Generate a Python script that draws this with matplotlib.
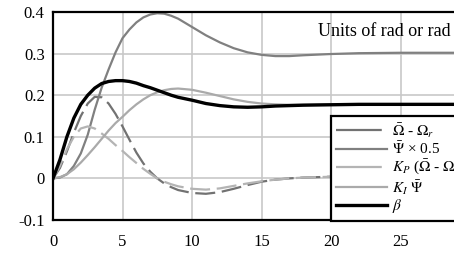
import numpy as np
import matplotlib
matplotlib.use("Agg")
import matplotlib.pyplot as plt
from matplotlib.lines import Line2D

plt.rcParams['font.family'] = ['Liberation Serif', 'DejaVu Serif']
plt.rcParams['mathtext.fontset'] = 'stix'

# time axis (s)
t = [0, 0.5, 1, 1.5, 2, 2.5, 3, 3.5, 4, 4.5, 5, 5.5, 6, 6.5, 7, 7.5, 8, 8.5, 9,
     10, 11, 12, 13, 14, 15, 16, 17, 18, 20, 22, 25, 28, 30]

# Omega_bar - Omega_r
omega_err = [0, 0.025, 0.065, 0.11, 0.15, 0.18, 0.196, 0.195, 0.18, 0.155, 0.125, 0.093,
             0.062, 0.036, 0.016, 0.0, -0.012, -0.021, -0.028,
             -0.035, -0.037, -0.033, -0.025, -0.016, -0.008, -0.003, 0.0, 0.002, 0.004, 0.005, 0.005, 0.005, 0.005]
# Psi_bar x 0.5
psi_half = [0, 0.002, 0.01, 0.03, 0.06, 0.105, 0.165, 0.218, 0.262, 0.303, 0.337, 0.358,
            0.375, 0.387, 0.394, 0.397, 0.396, 0.391, 0.384,
            0.364, 0.344, 0.327, 0.313, 0.303, 0.297, 0.294, 0.294, 0.296, 0.299, 0.301, 0.302, 0.302, 0.302]
# K_P (Omega_bar - Omega_r)
kp_term = [0, 0.03, 0.07, 0.1, 0.12, 0.125, 0.12, 0.108, 0.095, 0.08, 0.066, 0.051,
           0.037, 0.023, 0.011, 0.0, -0.008, -0.014, -0.019,
           -0.025, -0.027, -0.024, -0.018, -0.012, -0.007, -0.003, 0.0, 0.002, 0.004, 0.005, 0.005, 0.005, 0.005]
# K_I Psi_bar
ki_term = [0, 0.003, 0.01, 0.022, 0.038, 0.056, 0.075, 0.095, 0.115, 0.133, 0.148, 0.164,
           0.178, 0.19, 0.2, 0.207, 0.212, 0.215, 0.216,
           0.213, 0.206, 0.198, 0.19, 0.184, 0.18, 0.178, 0.177, 0.177, 0.178, 0.178, 0.178, 0.178, 0.178]
# beta
beta = [0, 0.045, 0.1, 0.145, 0.178, 0.2, 0.217, 0.228, 0.233, 0.235, 0.235, 0.233,
        0.229, 0.223, 0.218, 0.212, 0.206, 0.2, 0.195,
        0.188, 0.18, 0.175, 0.172, 0.171, 0.172, 0.174, 0.175, 0.176, 0.177, 0.178, 0.178, 0.178, 0.178]

labels = [r'$\bar{\Omega}$ - $\Omega_r$', r'$\bar{\Psi}$ × 0.5',
          r'$K_P$ ($\bar{\Omega}$ - $\Omega_r$)', r'$K_I$ $\bar{\Psi}$', r'$\beta$']
colors = ['#727272', '#808080', '#b4b4b4', '#aaaaaa', 'black']

fig = plt.figure(figsize=(4.54, 2.56), dpi=100)
ax = fig.add_axes([53/454, 36/256, 417/454, 208/256])

ax.plot(t, omega_err, color=colors[0], lw=1.6, ls=(0, (9, 3)))
ax.plot(t, psi_half, color=colors[1], lw=1.6)
ax.plot(t, kp_term, color=colors[2], lw=1.6, ls=(0, (9, 3)))
ax.plot(t, ki_term, color=colors[3], lw=1.6)
ax.plot(t, beta, color=colors[4], lw=2.4)

ax.set_xlim(0, 30)
ax.set_ylim(-0.1, 0.4)
ax.set_xticks([0, 5, 10, 15, 20, 25])
ax.set_yticks([-0.1, 0, 0.1, 0.2, 0.3, 0.4])
ax.set_yticklabels(['-0.1', '0', '0.1', '0.2', '0.3', '0.4'])
ax.grid(True, color='#c8c8c8', lw=1.2)
ax.axvline(30, color='#c8c8c8', lw=1.2, zorder=0)
ax.set_axisbelow(True)
ax.tick_params(length=0, labelsize=12)
ax.tick_params(axis='x', pad=10)
ax.tick_params(axis='y', pad=6)
for s in ax.spines.values():
    s.set_linewidth(1.6)
    s.set_color('black')

ax.text(19.1, 0.353, 'Units of rad or rad', fontsize=13, va='center', ha='left')

dash_leg = (0, (20.6, 3.7, 3.1, 10))
handles = [Line2D([], [], color=colors[0], lw=1.6, ls=dash_leg),
           Line2D([], [], color=colors[1], lw=1.6),
           Line2D([], [], color=colors[2], lw=1.6, ls=dash_leg),
           Line2D([], [], color=colors[3], lw=1.6),
           Line2D([], [], color=colors[4], lw=2.4)]
leg = ax.legend(handles, labels, loc='upper left', bbox_to_anchor=(20, 0.151),
                bbox_transform=ax.transData, borderaxespad=0, fancybox=False,
                edgecolor='black', framealpha=1, fontsize=11, handlelength=3.3,
                handletextpad=0.35, labelspacing=0.05, borderpad=0.35)
leg.get_frame().set_linewidth(1.6)

fig.savefig('out.png', dpi=100)
